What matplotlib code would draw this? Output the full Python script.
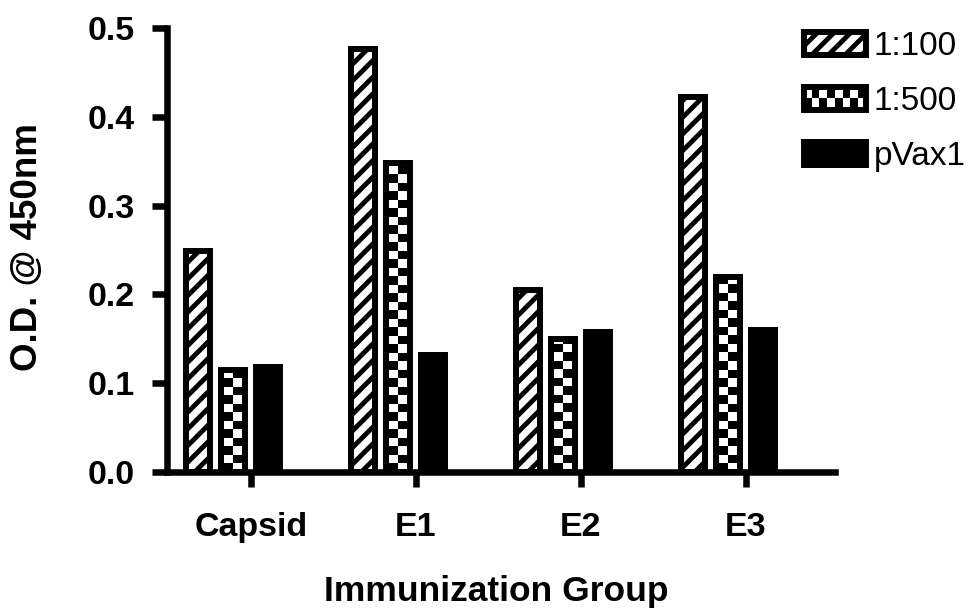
import numpy as np
import matplotlib
matplotlib.use('Agg')
import matplotlib.pyplot as plt
from matplotlib.patches import Rectangle
from matplotlib.legend_handler import HandlerBase

groups = ['Capsid', 'E1', 'E2', 'E3']
series = ['1:100', '1:500', 'pVax1']
dil_100 = [0.249, 0.477, 0.205, 0.422]
dil_500 = [0.115, 0.348, 0.150, 0.219]
pvax1 = [0.118, 0.132, 0.157, 0.160]
yticks = [0.0, 0.1, 0.2, 0.3, 0.4, 0.5]

plt.rcParams['font.family'] = ['Liberation Sans', 'DejaVu Sans']
plt.rcParams['hatch.linewidth'] = 3.5

W, H = 975, 616
fig = plt.figure(figsize=(W / 100, H / 100), dpi=100)
ax = fig.add_axes([167 / W, 1 - 471.7 / H, (835 - 167) / W, (471.7 - 28.3) / H])

gp = 165.0          # pixels per group
bw = 24 / gp        # bar width (edge adds the rest)
offs = [-53 / gp, -18 / gp, 17 / gp]
edge = 4.3
x = np.arange(len(groups))

# 1:100 hatched
ax.bar(x + offs[0], dil_100, bw, facecolor='white', edgecolor='black',
       hatch='//', linewidth=edge, zorder=3)

# 1:500 checkerboard: white bars, image clipped to each, outline on top
bars = ax.bar(x + offs[1], dil_500, bw, facecolor='white', edgecolor='none', zorder=2)
cell = 8.5 / 886.7
for b in bars:
    h = b.get_height()
    n = int(h / cell) + 2
    pat = (np.add.outer(np.arange(n), np.arange(2)) % 2).astype(float)
    im = ax.imshow(pat[::-1], cmap='gray', interpolation='nearest', aspect='auto',
                   extent=(b.get_x(), b.get_x() + b.get_width(), 0, n * cell), zorder=2.5)
    im.set_clip_path(b)
ax.bar(x + offs[1], dil_500, bw, fill=False, edgecolor='black', linewidth=edge, zorder=3)

# pVax1 solid
ax.bar(x + offs[2], pvax1, bw, facecolor='black', edgecolor='black',
       linewidth=edge, zorder=3)

ax.set_xlim(-84 / gp, (835 - 251) / gp)
ax.set_ylim(0, 0.5)
ax.set_yticks(yticks)
ax.set_yticklabels([f'{v:.1f}' for v in yticks])
ax.set_xticks(x)
ax.set_xticklabels(groups)

for s in ['top', 'right']:
    ax.spines[s].set_visible(False)
for s in ['left', 'bottom']:
    ax.spines[s].set_linewidth(4.7)
    ax.spines[s].set_zorder(4)
ax.tick_params(axis='both', length=11, width=4.7, labelsize=24.5)
ax.tick_params(axis='y', pad=12)
ax.tick_params(axis='x', pad=18)
for t in ax.get_xticklabels() + ax.get_yticklabels():
    t.set_fontweight('bold')

fig.text(496.5 / W, 1 - 592 / H, 'Immunization Group', fontsize=25.5,
         fontweight='bold', ha='center', va='center')
fig.text(28 / W, 1 - 247.5 / H, 'O.D. @ 450nm', fontsize=26.5, fontweight='bold',
         ha='center', va='center', rotation=90)


class Checker:
    pass


class HandlerChecker(HandlerBase):
    def create_artists(self, legend, orig_handle, xdescent, ydescent,
                       width, height, fontsize, trans):
        arts = [Rectangle((-xdescent, -ydescent), width, height,
                          facecolor='white', edgecolor='none', transform=trans)]
        nc, nr = 8, 2
        cw, ch = width / nc, height / nr
        for i in range(nr):
            for j in range(nc):
                if (i + j) % 2 == 0:
                    arts.append(Rectangle((-xdescent + j * cw, -ydescent + i * ch), cw, ch,
                                          facecolor='black', edgecolor='none', transform=trans))
        arts.append(Rectangle((-xdescent, -ydescent), width, height, fill=False,
                              edgecolor='black', linewidth=edge, transform=trans))
        return arts


h1 = Rectangle((0, 0), 1, 1, facecolor='white', edgecolor='black', hatch='//', linewidth=edge)
h2 = Checker()
h3 = Rectangle((0, 0), 1, 1, facecolor='black', edgecolor='black', linewidth=edge)
leg = fig.legend([h1, h2, h3], series, loc='upper left',
                 bbox_to_anchor=(804 / W, 1 - 31 / H), frameon=False, fontsize=24,
                 handlelength=1.85, handleheight=0.7, handletextpad=0.25,
                 labelspacing=0.72, borderpad=0, borderaxespad=0,
                 handler_map={Checker: HandlerChecker()})

fig.savefig('out.png', dpi=100)
